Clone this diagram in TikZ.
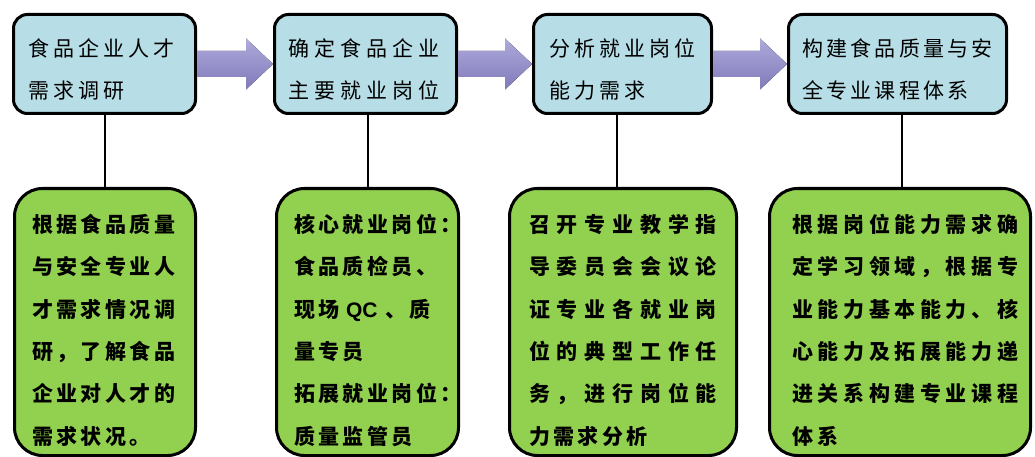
\documentclass[tikz,border=0pt]{standalone}
\usepackage{fontspec}
\newfontfamily\cjk{Noto Sans CJK SC}
\newfontfamily\arialb{Liberation Sans}[UprightFont={* Bold}]
\usetikzlibrary{calc}
\definecolor{topfill}{RGB}{183,222,230}
\definecolor{botfill}{RGB}{146,208,80}
\definecolor{arrtop}{RGB}{174,170,218}
\definecolor{arrbot}{RGB}{128,122,186}
\newcommand\spc[2]{\def\spcpitch{#1}\spcloop#2\relax}
\def\spcloop#1{\ifx\relax#1\else\makebox[\spcpitch][l]{#1}\expandafter\spcloop\fi}
\newcommand\firststrut{\rule{0pt}{22pt}}
\newcommand\flowarrow[2]{\fill[flow] ($(#1.east)+(0,-13)$) -- ($(#2.west)+(-27,-13)$) -- ($(#2.west)+(-27,-25.5)$) -- (#2.west) -- ($(#2.west)+(-27,25.5)$) -- ($(#2.west)+(-27,13)$) -- ($(#1.east)+(0,13)$) -- cycle;}
\begin{document}
\begin{tikzpicture}[x=1pt,y=-1pt,
 topbox/.style={draw=black, line width=3pt, rounded corners=14pt, fill=topfill, inner sep=0pt},
 botbox/.style={draw=black, line width=3pt, rounded corners=28pt, fill=botfill, inner sep=0pt},
 toptext/.style={anchor=north west, inner sep=0pt, align=left, font=\cjk\fontsize{21}{42}\selectfont},
 bottext/.style={anchor=north west, inner sep=0pt, align=left, font=\cjk\bfseries\fontsize{21}{42.4}\selectfont},
 link/.style={draw=black, line width=2.6pt},
 flow/.style={top color=arrtop, bottom color=arrbot, draw=none}]
\fill[white] (0,0) rectangle (1035,457);
\useasboundingbox (0,0) rectangle (1035,457);

% top boxes
\node[topbox, minimum width=182pt, minimum height=99pt] (t1) at (104.5,64) {};
\node[topbox, minimum width=182pt, minimum height=99pt] (t2) at (365.5,64) {};
\node[topbox, minimum width=178pt, minimum height=99pt] (t3) at (622.5,64) {};
\node[topbox, minimum width=218pt, minimum height=99pt] (t4) at (897.5,64) {};

% bottom boxes
\node[botbox, minimum width=181pt, minimum height=267pt] (b1) at (105,322) {};
\node[botbox, minimum width=182pt, minimum height=267pt] (b2) at (367.5,322) {};
\node[botbox, minimum width=227pt, minimum height=267pt] (b3) at (623,322) {};
\node[botbox, minimum width=261pt, minimum height=267pt] (b4) at (900,322) {};

% connectors
\draw[link] ([xshift=0.5pt]t1.south) -- ([xshift=0.5pt]t1.south |- b1.north);
\draw[link] ([xshift=2.5pt]t2.south) -- ([xshift=2.5pt]t2.south |- b2.north);
\draw[link] ([xshift=-5.5pt]t3.south) -- ([xshift=-5.5pt]t3.south |- b3.north);
\draw[link] ([xshift=4.5pt]t4.south) -- ([xshift=4.5pt]t4.south |- b4.north);

% arrows
\flowarrow{t1}{t2}
\flowarrow{t2}{t3}
\flowarrow{t3}{t4}

% top texts
\node[toptext] (t1x) at (28,34) {\firststrut\spc{25pt}{食品企业人才}\\\spc{25pt}{需求调研}};
\node[toptext] (t2x) at (288,34) {\firststrut\spc{26pt}{确定食品企业}\\\spc{26pt}{主要就业岗位}};
\node[toptext] (t3x) at (549,34) {\firststrut\spc{25pt}{分析就业岗位}\\\spc{25pt}{能力需求}};
\node[toptext] (t4x) at (802,34) {\firststrut\spc{24.2pt}{构建食品质量与安}\\\spc{24.2pt}{全专业课程体系}};

% bottom texts
\node[bottext] (b1x) at (32,210) {\firststrut\spc{24.4pt}{根据食品质量}\\
\spc{24.4pt}{与安全专业人}\\
\spc{24.4pt}{才需求情况调}\\
\spc{24.4pt}{研，了解食品}\\
\spc{24.4pt}{企业对人才的}\\
\spc{24.4pt}{需求状况。}};
\node[bottext] (b2x) at (294,210) {\firststrut\spc{24.4pt}{核心就业岗位：}\\
\spc{24.4pt}{食品质检员、}\\
\spc{24.4pt}{现场}\hspace{3pt}{\arialb QC}\hspace{8pt}\spc{24.4pt}{、质}\\
\spc{24.4pt}{量专员}\\
\spc{24.4pt}{拓展就业岗位：}\\
\spc{24.4pt}{质量监管员}};
\node[bottext] (b3x) at (529,210) {\firststrut\spc{27.8pt}{召开专业教学指}\\
\spc{27.8pt}{导委员会会议论}\\
\spc{27.8pt}{证专业各就业岗}\\
\spc{27.8pt}{位的典型工作任}\\
\spc{27.8pt}{务，进行岗位能}\\
\spc{24.3pt}{力需求分析}};
\node[bottext] (b4x) at (792,210) {\firststrut\spc{25.6pt}{根据岗位能力需求确}\\
\spc{25.6pt}{定学习领域，根据专}\\
\spc{25.6pt}{业能力基本能力、核}\\
\spc{25.6pt}{心能力及拓展能力递}\\
\spc{25.6pt}{进关系构建专业课程}\\
\spc{25.6pt}{体系}};
\end{tikzpicture}
\end{document}
